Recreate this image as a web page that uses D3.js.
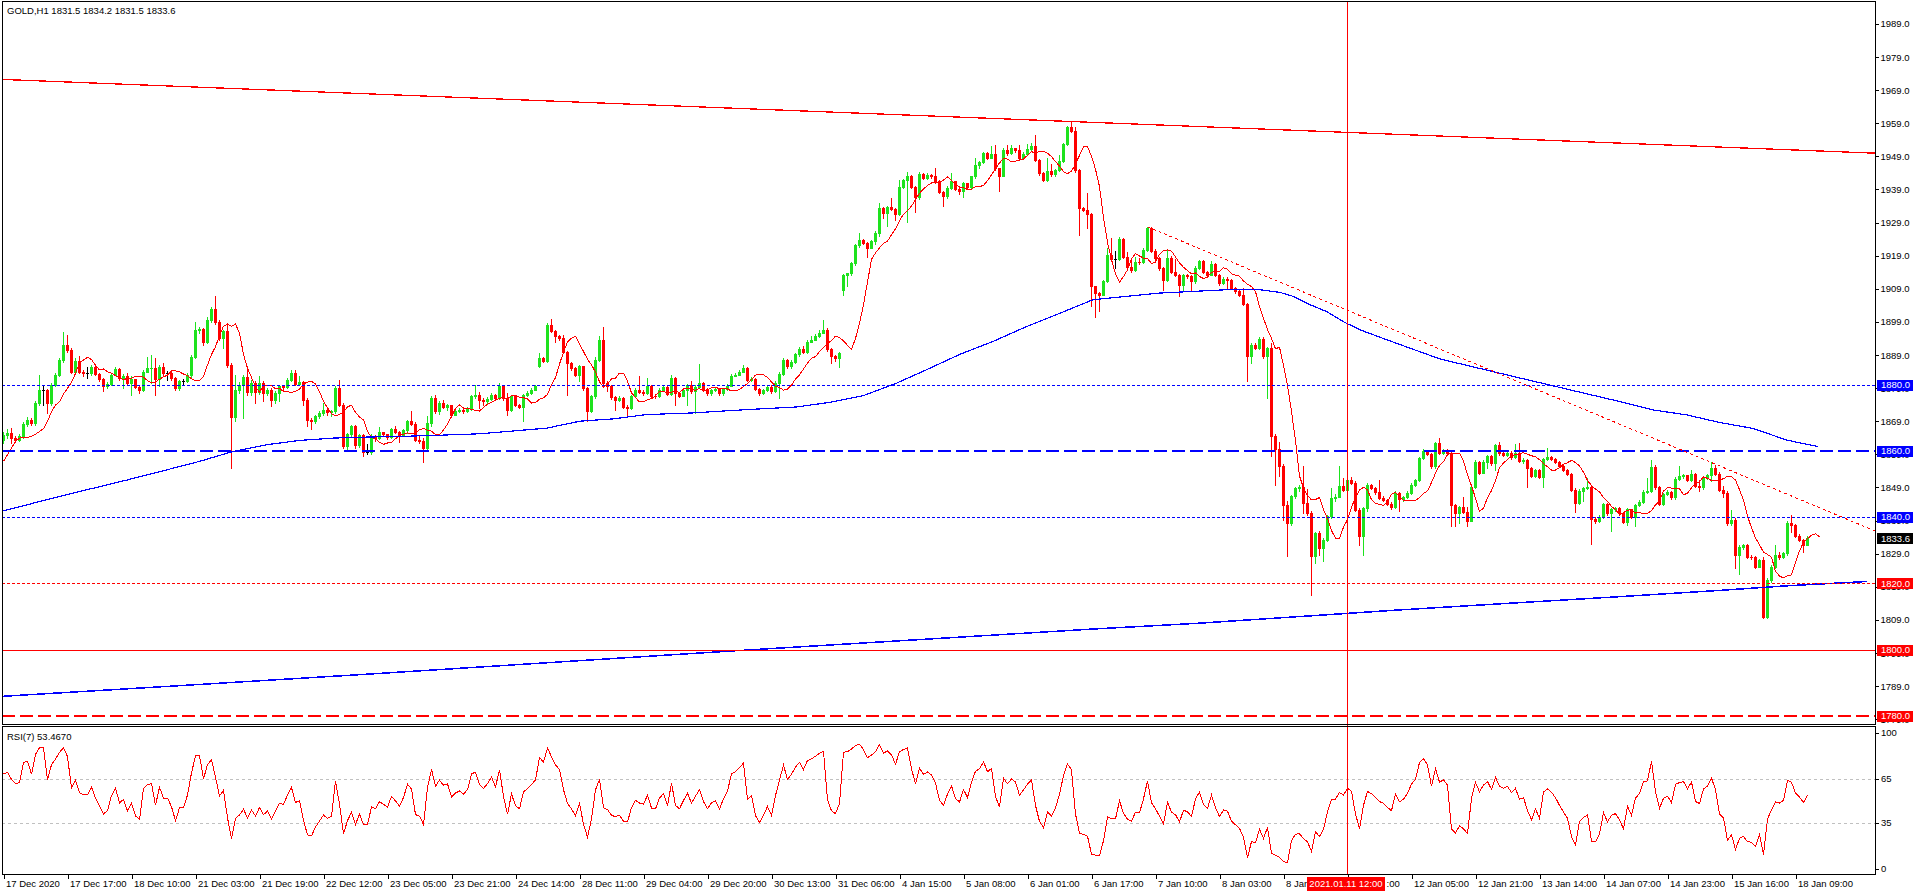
<!DOCTYPE html>
<html><head><meta charset="utf-8">
<script src="https://cdn.jsdelivr.net/npm/d3@7"></script>
<style>
body{margin:0;background:#fff;overflow:hidden}
svg text{font-family:"Liberation Sans",Arial,sans-serif;font-size:9.5px}
</style></head>
<body><svg id="c" width="1916" height="896"></svg>
<script>
// ---------- DATA (GOLD, H1) ----------
const opens=[
1863.4,1864.9,1865.4,1864.0,1863.4,1864.4,1868.2,1869.4,1868.4,1874.5,
1878.5,1878.5,1874.5,1880.0,1883.0,1887.5,1892.1,1890.6,1884.0,1887.3,
1884.0,1883.5,1883.5,1885.5,1883.3,1881.7,1879.7,1880.3,1883.0,1884.7,
1882.0,1882.7,1880.5,1881.7,1879.3,1878.5,1884.0,1885.0,1885.2,1881.7,
1885.5,1883.5,1883.5,1882.0,1879.0,1881.0,1881.0,1883.0,1888.3,1896.6,
1896.8,1892.8,1899.6,1902.8,1899.1,1894.1,1896.1,1886.0,1870.4,1878.5,
1880.0,1882.3,1877.7,1880.5,1877.7,1880.5,1877.5,1878.5,1875.5,1877.5,
1879.5,1879.2,1881.5,1883.5,1880.3,1880.7,1875.5,1869.5,1869.0,1870.5,
1871.5,1872.5,1871.7,1872.0,1879.0,1874.0,1861.4,1865.0,1867.5,1861.7,
1864.7,1859.6,1859.6,1864.4,1863.8,1865.7,1865.0,1864.3,1866.6,1865.7,
1864.7,1866.2,1869.0,1868.3,1863.4,1863.0,1861.0,1868.5,1876.0,1872.0,
1874.5,1873.3,1873.8,1871.0,1872.0,1872.5,1872.0,1872.8,1876.5,1877.0,
1875.5,1875.0,1875.8,1877.0,1876.0,1879.5,1876.0,1872.5,1876.5,1874.0,
1873.3,1876.8,1877.5,1878.5,1885.6,1888.0,1887.3,1898.0,1896.3,1894.8,
1894.0,1890.0,1886.5,1885.0,1883.0,1885.6,1879.0,1872.0,1876.5,1887.6,
1893.6,1880.5,1879.5,1876.3,1875.5,1876.0,1873.3,1873.0,1876.5,1878.5,
1877.8,1877.5,1879.5,1876.7,1876.5,1878.5,1879.3,1877.3,1882.0,1877.5,
1876.7,1878.3,1879.8,1878.0,1879.3,1880.5,1878.7,1877.5,1878.3,1878.6,
1877.5,1878.7,1879.7,1882.7,1883.1,1884.0,1885.0,1881.3,1881.8,1878.8,
1877.5,1878.3,1879.3,1878.0,1880.5,1883.3,1887.5,1885.6,1887.0,1889.2,
1890.8,1890.0,1893.0,1893.6,1894.6,1895.7,1896.6,1890.8,1888.6,1888.0,
1908.7,1913.0,1913.7,1916.7,1922.2,1923.8,1922.8,1921.3,1923.3,1925.8,
1933.3,1931.8,1933.6,1933.0,1931.6,1939.7,1941.7,1943.1,1939.7,1936.6,
1943.7,1942.4,1943.4,1942.9,1941.5,1938.1,1937.0,1939.4,1941.4,1939.1,
1938.4,1940.9,1939.6,1942.9,1946.4,1947.2,1949.9,1948.6,1949.6,1945.4,
1943.2,1951.0,1949.9,1951.4,1950.9,1948.6,1949.8,1951.1,1952.1,1947.9,
1943.9,1941.9,1944.6,1943.6,1944.9,1947.6,1952.6,1957.7,1956.7,1944.9,
1933.3,1932.8,1931.5,1909.7,1907.7,1907.2,1911.2,1919.2,1918.0,1918.0,
1924.1,1918.7,1915.7,1914.7,1917.2,1917.0,1920.7,1927.3,1920.5,1918.2,
1915.2,1911.7,1918.2,1914.2,1913.2,1910.2,1913.2,1912.7,1911.2,1915.4,
1917.4,1914.2,1913.2,1916.4,1913.2,1910.7,1912.0,1911.7,1909.2,1908.2,
1907.2,1904.4,1888.6,1892.1,1891.1,1893.9,1888.6,1891.1,1864.4,1860.5,
1855.4,1843.8,1838.3,1846.3,1848.8,1849.0,1844.3,1841.3,1828.2,1835.2,
1830.7,1833.2,1840.3,1845.8,1846.2,1849.3,1848.3,1851.3,1850.3,1842.3,
1834.2,1842.8,1849.8,1848.8,1847.5,1845.9,1845.3,1844.0,1843.0,1847.4,
1845.4,1846.0,1847.4,1849.8,1851.2,1857.9,1860.1,1859.1,1855.4,1862.4,
1859.5,1860.3,1859.3,1843.7,1841.2,1843.0,1841.6,1839.0,1849.2,1856.8,
1853.5,1856.8,1858.5,1856.3,1861.8,1859.3,1858.8,1859.5,1858.1,1859.3,
1857.1,1857.4,1854.8,1852.5,1854.3,1852.1,1857.5,1858.3,1857.7,1856.8,
1855.5,1854.3,1853.1,1848.2,1844.4,1848.0,1848.7,1849.1,1839.4,1839.0,
1840.2,1844.0,1841.2,1842.4,1842.7,1841.2,1838.7,1842.4,1840.2,1843.7,
1844.7,1847.7,1848.0,1855.3,1849.0,1844.0,1847.0,1847.7,1846.0,1851.6,
1852.3,1852.6,1851.3,1853.1,1849.4,1849.0,1852.1,1852.8,1854.8,1853.1,
1848.2,1847.2,1838.2,1839.2,1828.6,1831.1,1831.5,1828.1,1827.9,1825.1,
1827.1,1810.0,1821.1,1825.1,1828.6,1828.0,1829.1,1838.4,1837.7,1834.4,1833.1,1831.5];
const highs=[
1865.8,1866.5,1867.0,1864.6,1865.0,1868.8,1870.4,1869.9,1875.0,1883.0,
1879.5,1878.8,1880.5,1883.5,1888.0,1896.0,1895.0,1891.0,1888.0,1888.8,
1884.5,1885.5,1886.0,1886.0,1883.5,1882.0,1880.8,1883.5,1885.5,1885.0,
1883.2,1883.5,1882.5,1881.8,1879.8,1884.5,1888.5,1889.0,1888.0,1886.0,
1886.7,1884.3,1884.5,1882.2,1881.5,1881.8,1883.5,1889.0,1899.0,1897.5,
1897.0,1900.5,1903.5,1906.7,1899.5,1896.6,1898.6,1886.5,1883.0,1880.8,
1883.0,1885.0,1881.5,1881.0,1882.5,1881.0,1879.0,1879.0,1878.0,1880.0,
1880.0,1882.0,1884.5,1884.5,1882.7,1881.0,1876.0,1870.0,1871.0,1872.0,
1874.5,1873.0,1872.5,1879.5,1881.5,1874.5,1865.5,1868.0,1868.0,1865.2,
1865.0,1862.0,1865.0,1864.7,1867.2,1865.8,1865.2,1867.0,1867.6,1866.0,
1866.7,1869.5,1872.0,1868.8,1864.7,1864.0,1870.5,1876.5,1877.0,1875.2,
1875.3,1874.3,1874.0,1872.6,1873.0,1873.2,1873.3,1877.0,1880.0,1877.8,
1876.0,1876.3,1877.5,1877.3,1880.5,1879.8,1877.5,1877.0,1876.8,1874.3,
1877.2,1878.0,1879.0,1880.0,1889.6,1888.5,1898.8,1900.0,1896.6,1895.0,
1895.0,1890.2,1886.8,1885.3,1886.0,1885.8,1879.2,1877.0,1888.3,1894.8,
1897.3,1881.0,1879.8,1876.5,1876.5,1876.2,1873.8,1877.0,1879.0,1882.5,
1878.5,1882.0,1879.8,1877.2,1879.0,1879.8,1879.8,1883.0,1882.3,1877.6,
1878.8,1880.3,1881.0,1879.8,1886.3,1880.8,1879.0,1878.8,1879.0,1879.0,
1879.0,1880.2,1883.2,1883.6,1884.6,1886.0,1885.5,1882.3,1882.0,1879.0,
1878.8,1879.8,1879.8,1881.0,1883.8,1888.0,1887.8,1887.5,1889.7,1891.3,
1891.8,1893.6,1894.8,1895.4,1896.4,1899.6,1897.0,1891.0,1889.0,1890.0,
1913.5,1913.9,1917.2,1922.6,1925.8,1924.0,1923.0,1923.8,1926.3,1934.8,
1933.6,1934.0,1936.4,1933.4,1941.9,1942.2,1944.4,1943.4,1939.9,1944.2,
1944.0,1944.1,1943.6,1945.4,1941.8,1938.4,1939.9,1943.9,1941.6,1939.6,
1941.2,1941.0,1943.2,1948.4,1947.7,1950.4,1950.4,1952.0,1952.4,1945.6,
1951.5,1952.4,1952.4,1951.6,1952.4,1950.2,1952.6,1953.0,1955.3,1948.1,
1944.3,1948.4,1946.6,1945.2,1949.4,1953.0,1958.0,1959.5,1957.7,1945.2,
1933.6,1937.9,1931.8,1909.9,1908.0,1911.6,1921.3,1924.3,1920.5,1924.6,
1924.4,1920.2,1917.8,1918.5,1918.2,1921.2,1927.7,1927.5,1921.0,1918.6,
1915.6,1920.7,1918.8,1918.0,1913.6,1913.6,1913.5,1913.0,1915.8,1917.8,
1917.6,1914.5,1917.5,1916.8,1913.6,1912.4,1912.5,1911.8,1909.5,1908.5,
1909.2,1904.8,1892.5,1892.5,1894.3,1894.4,1891.5,1892.5,1865.0,1862.7,
1856.0,1844.8,1846.6,1849.2,1849.6,1855.4,1848.6,1841.8,1835.6,1835.8,
1833.6,1840.8,1848.8,1847.0,1855.4,1851.8,1851.7,1852.0,1850.8,1842.8,
1843.2,1850.2,1850.0,1849.0,1851.3,1846.3,1845.6,1844.5,1847.8,1847.6,
1846.4,1847.8,1850.2,1851.6,1858.3,1860.5,1860.3,1859.4,1862.8,1864.0,
1860.7,1860.6,1860.0,1843.9,1843.3,1846.2,1843.0,1849.6,1857.2,1857.0,
1857.2,1858.9,1858.7,1862.2,1862.8,1859.6,1860.0,1860.0,1862.2,1862.5,
1857.9,1857.7,1855.2,1854.7,1854.7,1857.9,1860.8,1858.6,1858.0,1857.0,
1855.8,1854.5,1853.3,1848.7,1848.4,1849.1,1851.8,1849.5,1840.0,1840.6,
1844.4,1844.3,1842.8,1843.1,1843.0,1841.5,1842.8,1842.6,1844.1,1845.1,
1848.2,1851.8,1857.3,1855.7,1849.4,1847.4,1848.1,1848.0,1852.0,1855.5,
1853.0,1852.8,1854.3,1853.5,1851.3,1852.5,1853.2,1856.6,1855.7,1853.6,
1849.3,1847.8,1842.2,1839.8,1831.5,1832.0,1831.9,1828.6,1828.3,1827.5,
1828.1,1821.5,1825.5,1831.6,1829.4,1829.5,1838.8,1840.7,1838.0,1834.8,1833.5,1834.2];
const lows=[
1862.4,1864.0,1862.4,1862.6,1863.0,1864.0,1867.5,1867.8,1868.0,1874.0,
1874.0,1871.5,1874.0,1879.5,1882.5,1887.0,1890.0,1883.5,1883.5,1883.5,
1882.5,1882.0,1883.0,1882.8,1881.2,1878.0,1879.0,1880.0,1882.8,1881.5,
1879.0,1880.0,1877.0,1879.0,1877.5,1878.2,1883.8,1880.5,1877.0,1879.5,
1883.0,1881.5,1881.5,1878.3,1878.3,1880.0,1880.8,1882.2,1888.0,1895.5,
1892.0,1892.5,1899.0,1898.5,1893.5,1891.0,1885.5,1854.8,1869.0,1877.5,
1870.0,1877.0,1877.0,1874.5,1877.2,1875.0,1876.8,1873.7,1874.5,1875.0,
1878.5,1879.0,1881.0,1880.0,1880.0,1874.0,1867.5,1866.5,1868.5,1870.0,
1871.0,1871.0,1870.5,1871.5,1873.5,1861.0,1860.4,1864.5,1861.0,1861.3,
1858.4,1859.0,1859.2,1863.0,1863.5,1864.5,1863.5,1864.0,1865.3,1862.6,
1864.5,1865.5,1868.0,1863.0,1862.4,1856.6,1860.5,1867.5,1871.5,1871.3,
1873.0,1872.5,1870.5,1870.8,1871.7,1871.5,1871.7,1872.5,1876.0,1873.0,
1874.0,1874.5,1875.5,1875.5,1875.8,1875.5,1871.0,1872.0,1873.5,1873.0,
1869.0,1876.5,1877.2,1878.5,1885.5,1887.0,1887.0,1895.8,1893.0,1893.5,
1889.5,1877.0,1884.5,1882.5,1881.0,1878.5,1869.0,1871.8,1876.0,1887.3,
1880.0,1878.0,1875.8,1872.5,1875.0,1873.0,1870.5,1872.8,1876.3,1877.5,
1877.0,1877.3,1876.3,1876.0,1876.3,1878.3,1877.0,1877.0,1874.0,1876.3,
1876.5,1874.0,1877.6,1871.5,1879.0,1878.3,1877.0,1877.0,1878.0,1877.0,
1876.8,1878.5,1879.5,1882.5,1883.0,1883.8,1881.0,1881.0,1878.5,1877.0,
1877.2,1878.0,1877.6,1877.7,1876.0,1883.0,1885.2,1885.0,1886.7,1888.8,
1889.7,1889.6,1892.8,1893.4,1894.4,1895.5,1890.3,1886.6,1887.3,1885.4,
1907.2,1909.7,1913.2,1916.2,1921.6,1922.4,1918.7,1921.2,1922.5,1924.8,
1930.3,1927.8,1932.7,1929.8,1931.2,1939.5,1929.3,1939.3,1932.3,1936.2,
1942.0,1942.0,1942.5,1941.0,1937.8,1934.0,1936.4,1939.0,1938.7,1937.5,
1936.6,1939.2,1939.3,1942.4,1945.6,1947.0,1948.2,1948.4,1944.9,1938.6,
1942.9,1949.5,1949.6,1950.4,1948.2,1948.3,1949.7,1950.8,1947.5,1943.4,
1941.4,1941.4,1943.2,1943.2,1944.6,1947.4,1952.4,1956.3,1944.4,1925.3,
1932.4,1927.3,1903.7,1900.6,1902.2,1907.0,1911.0,1917.6,1915.2,1917.6,
1918.3,1915.3,1914.2,1914.5,1916.5,1916.8,1920.4,1920.0,1917.8,1914.8,
1908.7,1911.2,1913.8,1912.8,1906.7,1908.7,1912.3,1908.7,1910.8,1915.0,
1913.8,1912.8,1913.0,1912.8,1910.2,1910.3,1909.2,1908.8,1907.8,1906.8,
1904.0,1881.0,1886.6,1890.7,1890.7,1888.2,1876.0,1858.4,1849.8,1852.4,
1839.2,1828.2,1837.7,1845.8,1847.8,1841.3,1840.8,1816.6,1826.2,1828.5,
1826.7,1832.8,1839.8,1844.8,1846.0,1847.9,1848.0,1849.9,1841.8,1831.7,
1828.7,1841.8,1848.4,1847.0,1845.5,1844.8,1843.6,1842.6,1842.8,1841.8,
1844.8,1845.7,1847.0,1849.5,1850.8,1857.5,1858.7,1855.0,1855.0,1859.0,
1859.0,1858.8,1837.2,1837.2,1838.2,1841.2,1837.2,1838.8,1848.8,1853.0,
1853.3,1854.8,1855.9,1854.3,1858.9,1858.4,1858.5,1857.7,1857.8,1856.7,
1856.4,1849.0,1852.0,1852.0,1851.7,1849.0,1857.2,1857.3,1856.3,1855.1,
1853.9,1852.7,1847.8,1841.7,1844.0,1844.8,1848.5,1831.9,1838.4,1838.6,
1839.8,1840.8,1835.7,1841.9,1840.8,1838.3,1837.5,1839.8,1837.2,1843.3,
1844.4,1847.4,1847.6,1848.6,1843.6,1843.6,1846.6,1845.6,1845.6,1851.3,
1851.8,1850.9,1850.9,1849.0,1848.0,1848.6,1851.5,1850.8,1852.7,1847.8,
1846.0,1837.7,1837.8,1824.6,1822.9,1830.4,1827.7,1827.3,1824.7,1824.9,
1809.6,1809.6,1820.5,1824.6,1827.4,1827.6,1828.5,1835.5,1834.0,1832.7,1829.6,1831.5];
const closes=[
1864.9,1865.4,1864.0,1863.4,1864.4,1868.2,1869.4,1868.4,1874.5,1878.5,
1878.5,1874.5,1880.0,1883.0,1887.5,1892.1,1890.6,1884.0,1887.3,1884.0,
1883.5,1883.5,1885.5,1883.3,1881.7,1879.7,1880.3,1883.0,1884.7,1882.0,
1882.7,1880.5,1881.7,1879.3,1878.5,1884.0,1885.0,1885.2,1881.7,1885.5,
1883.5,1883.5,1882.0,1879.0,1881.0,1881.0,1883.0,1888.3,1896.6,1896.8,
1892.8,1899.6,1902.8,1899.1,1894.1,1896.1,1886.0,1870.4,1878.5,1880.0,
1882.3,1877.7,1880.5,1877.7,1880.5,1877.5,1878.5,1875.5,1877.5,1879.5,
1879.2,1881.5,1883.5,1880.3,1880.7,1875.5,1869.5,1869.0,1870.5,1871.5,
1872.5,1871.7,1872.0,1879.0,1874.0,1861.4,1865.0,1867.5,1861.7,1864.7,
1859.6,1859.6,1864.4,1863.8,1865.7,1865.0,1864.3,1866.6,1865.7,1864.7,
1866.2,1869.0,1868.3,1863.4,1863.0,1861.0,1868.5,1876.0,1872.0,1874.5,
1873.3,1873.8,1871.0,1872.0,1872.5,1872.0,1872.8,1876.5,1877.0,1875.5,
1875.0,1875.8,1877.0,1876.0,1879.5,1876.0,1872.5,1876.5,1874.0,1873.3,
1876.8,1877.5,1878.5,1879.5,1888.0,1887.3,1898.0,1896.3,1894.8,1894.0,
1890.0,1886.5,1885.0,1883.0,1885.6,1879.0,1872.0,1876.5,1887.6,1893.6,
1880.5,1879.5,1876.3,1875.5,1876.0,1873.3,1873.0,1876.5,1878.5,1877.8,
1877.5,1879.5,1876.7,1876.5,1878.5,1879.3,1877.3,1882.0,1877.5,1876.7,
1878.3,1879.8,1878.0,1879.3,1880.5,1878.7,1877.5,1878.3,1878.6,1877.5,
1878.7,1879.7,1882.7,1883.1,1884.0,1885.0,1881.3,1881.8,1878.8,1877.5,
1878.3,1879.3,1878.0,1880.5,1883.3,1887.5,1885.6,1887.0,1889.2,1890.8,
1890.0,1893.0,1893.6,1894.6,1895.7,1896.6,1890.8,1888.6,1888.0,1889.5,
1913.0,1913.7,1916.7,1922.2,1923.8,1922.8,1921.3,1923.3,1925.8,1933.3,
1931.8,1933.6,1933.0,1931.6,1939.7,1941.7,1943.1,1939.7,1936.6,1943.7,
1942.4,1943.4,1942.9,1941.5,1938.1,1937.0,1939.4,1941.4,1939.1,1938.4,
1940.9,1939.6,1942.9,1946.4,1947.2,1949.9,1948.6,1949.6,1945.4,1943.2,
1951.0,1949.9,1951.4,1950.9,1948.6,1949.8,1951.1,1952.1,1947.9,1943.9,
1941.9,1944.6,1943.6,1944.9,1947.6,1952.6,1957.7,1956.7,1944.9,1933.3,
1932.8,1931.5,1909.7,1907.7,1907.2,1911.2,1919.2,1918.0,1918.0,1924.1,
1918.7,1915.7,1914.7,1917.2,1917.0,1920.7,1927.3,1920.5,1918.2,1915.2,
1911.7,1918.2,1914.2,1913.2,1910.2,1913.2,1912.7,1911.2,1915.4,1917.4,
1914.2,1913.2,1916.4,1913.2,1910.7,1912.0,1911.7,1909.2,1908.2,1907.2,
1904.4,1888.6,1892.1,1891.1,1893.9,1888.6,1891.1,1864.4,1860.5,1855.4,
1843.8,1838.3,1846.3,1848.8,1849.0,1844.3,1841.3,1828.2,1835.2,1830.7,
1833.2,1840.3,1845.8,1846.2,1849.3,1848.3,1851.3,1850.3,1842.3,1834.2,
1842.8,1849.8,1848.8,1847.5,1845.9,1845.3,1844.0,1843.0,1847.4,1845.4,
1846.0,1847.4,1849.8,1851.2,1857.9,1860.1,1859.1,1855.4,1862.4,1859.5,
1860.3,1859.3,1843.7,1841.2,1843.0,1841.6,1839.0,1849.2,1856.8,1853.5,
1856.8,1858.5,1856.3,1861.8,1859.3,1858.8,1859.5,1858.1,1859.3,1857.1,
1857.4,1854.8,1852.5,1854.3,1852.1,1857.5,1858.3,1857.7,1856.8,1855.5,
1854.3,1853.1,1848.2,1844.4,1848.0,1848.7,1849.1,1839.4,1839.0,1840.2,
1844.0,1841.2,1842.4,1842.7,1841.2,1838.7,1842.4,1840.2,1843.7,1844.7,
1847.7,1848.0,1855.3,1849.0,1844.0,1847.0,1847.7,1846.0,1851.6,1852.3,
1852.6,1851.3,1853.1,1849.4,1849.0,1852.1,1852.8,1854.8,1853.1,1848.2,
1847.2,1838.2,1839.2,1828.6,1831.1,1831.5,1828.1,1827.9,1825.1,1827.1,
1810.0,1821.1,1825.1,1828.6,1828.0,1829.1,1838.4,1837.7,1834.4,1833.1,1831.5,1833.6];

// time axis labels, one every 16 bars
const timeIdx=[0,16,32,48,64,80,96,112,128,144,160,176,192,208,224,240,256,272,288,304,320,336,352,368,384,400,416,432,448];
const timeLabels=["17 Dec 2020","17 Dec 17:00","18 Dec 10:00","21 Dec 03:00","21 Dec 19:00","22 Dec 12:00","23 Dec 05:00","23 Dec 21:00","24 Dec 14:00","28 Dec 11:00","29 Dec 04:00","29 Dec 20:00","30 Dec 13:00","31 Dec 06:00","4 Jan 15:00","5 Jan 08:00","6 Jan 01:00","6 Jan 17:00","7 Jan 10:00","8 Jan 03:00","8 Jan 19:00","11 Jan 12:00","12 Jan 05:00","12 Jan 21:00","13 Jan 14:00","14 Jan 07:00","14 Jan 23:00","15 Jan 16:00","18 Jan 09:00"];
const priceTicks=[1779,1789,1799,1809,1819,1829,1839,1849,1859,1869,1879,1889,1899,1909,1919,1929,1939,1949,1959,1969,1979,1989];
const rsiTicks=[100,65,35,0];
const rsiLevels=[65,35];

// horizontal price levels
const levelPrices=[1880,1860,1840,1820,1800,1780];
const lastPrice=1833.6;
// trend lines (anchor bar index, price)
const trendSolidIdx=[0,267], trendSolidPrice=[1972.2,1959.5];
const trendDotIdx=[286,427], trendDotPrice=[1927.7,1856.5];
// vertical line
const vLineIdx=336, vLineLabel="2021.01.11 12:00";
// long moving averages (bar index, price)
const maSlowIdx=[-0.4,14.4,31.1,40.8,49.1,57.5,65.8,74.1,82.5,90.8,99.1,107.5,119.1,135.8,144.1,152.4,160.8,172.4,185.8,198.3,206.6,214.9,223.3,231.6,239.1,247.4,255.8,264.1,272.4,280.8,289.1,297.4,305.8,314.1,319.1,322.4,326.6,330.8,334.9,339.1,347.4,359.1,381,402.4,412.4,420.8,429.1,437.4,445.8,453.7];
const maSlowVal=[1841.8,1846.4,1851.3,1854.3,1856.9,1859.9,1861.9,1863.2,1863.9,1864.2,1864.4,1864.7,1865.2,1866.9,1869.0,1869.7,1871.0,1871.5,1872.5,1873.3,1874.7,1876.7,1880.5,1885.0,1889.2,1893.1,1897.6,1901.6,1905.7,1906.7,1907.7,1908.2,1908.7,1908.7,1907.9,1906.7,1904.2,1902.1,1899.1,1896.6,1892.9,1887.8,1881.5,1875.4,1872.4,1870.9,1868.6,1866.8,1863.3,1861.3];
const maLongIdx=[-0.4,45,91,182,272,299,324,349,379,404,429,446,466];
const maLongVal=[1785.9,1789.2,1792.6,1799.6,1806.2,1808.0,1810.0,1812.0,1814.2,1816.0,1817.9,1819.3,1820.6];
// fast MA: SMA(5) shifted 3 bars; first values
const maPeriod=5, maShift=3;
const maLead=[1856.9,1858.9,1860.9,1862.9,1863.9,1864.1,1864.1];
// RSI(7); first values
const rsiPeriod=7;
const rsiLead=[68.5,69.6,64.8,62.1,62.5,76.3,77.2];
const headerText="GOLD,H1  1831.5 1834.2 1831.5 1833.6";
const rsiText="RSI(7) 53.4670";

// ---------- LAYOUT / STYLE ----------
const L=2, R=1876, mTop=1, mBot=724.5, rTop=726.5, rBot=874.5;
const bull="#1ee21e", bear="#ff0000", blue="#0000ff", red="#ff0000";
const levelColor=[blue,blue,blue,red,red,red];
const levelDash=["3,2","13,5","3,2","3,2",null,"13,5"];
const levelWidth=[1,2,1,1,1,2];

const svg=d3.select("#c");
const x=d3.scaleLinear().domain([-0.375,468.125]).range([L,R]);
const y=d3.scaleLinear().domain([1777.4,1995.9]).range([mBot,mTop]);
const yr=d3.scaleLinear().domain([0,100]).range([874,728]);

const defs=svg.append("defs");
defs.append("clipPath").attr("id","cm").append("rect").attr("x",L+1).attr("y",mTop+1).attr("width",R-L-1).attr("height",mBot-mTop-1.5);
defs.append("clipPath").attr("id","cr").append("rect").attr("x",L+1).attr("y",rTop+0.5).attr("width",R-L-1).attr("height",rBot-rTop-1);

const gm=svg.append("g").attr("clip-path","url(#cm)").attr("shape-rendering","crispEdges");
const gr=svg.append("g").attr("clip-path","url(#cr)").attr("shape-rendering","crispEdges");

// candles
const idx=d3.range(closes.length);
const cg=gm.append("g");
idx.forEach(i=>{
  const o=opens[i],c=closes[i],h=highs[i],l=lows[i];
  const col=c>o?bull:(c<o?bear:"#000");
  const xi=Math.floor(x(i));
  const yh=Math.round(y(h)), yl=Math.round(y(l));
  cg.append("rect").attr("x",xi).attr("y",yh).attr("width",1).attr("height",Math.max(1,yl-yh+1)).attr("fill",col);
  const yt=Math.round(y(Math.max(o,c))), yb=Math.round(y(Math.min(o,c)));
  cg.append("rect").attr("x",xi-1).attr("y",yt).attr("width",3).attr("height",Math.max(1,yb-yt+1)).attr("fill",col);
});

// fast MA
const maFast=[];
for(let j=0;j<closes.length+maShift;j++){
  const end=j-maShift;
  if(end-maPeriod+1>=0){maFast.push([j,d3.mean(closes.slice(end-maPeriod+1,end+1))]);}
  else if(j<maLead.length){maFast.push([j,maLead[j]]);}
}
const line=d3.line().x(d=>x(d[0])).y(d=>y(d[1]));
gm.append("path").attr("d",line(maFast)).attr("fill","none").attr("stroke",red).attr("stroke-width",1);
gm.append("path").attr("d",line(maSlowIdx.map((d,i)=>[d,maSlowVal[i]]))).attr("fill","none").attr("stroke",blue).attr("stroke-width",1.2);
gm.append("path").attr("d",line(maLongIdx.map((d,i)=>[d,maLongVal[i]]))).attr("fill","none").attr("stroke",blue).attr("stroke-width",1.5);

// horizontal levels
levelPrices.forEach((p,k)=>{
  const yy=Math.round(y(p))+(levelWidth[k]===2?0:0.5);
  gm.append("line").attr("x1",L).attr("x2",R).attr("y1",yy).attr("y2",yy)
    .attr("stroke",levelColor[k]).attr("stroke-width",levelWidth[k]).attr("stroke-dasharray",levelDash[k]);
});
// trend lines (rays)
function ray(ix,pr,fromStart){
  const s=(pr[1]-pr[0])/(ix[1]-ix[0]);
  const x0=fromStart?x.domain()[0]:ix[0], x1=x.domain()[1];
  return [[x0,pr[0]+s*(x0-ix[0])],[x1,pr[0]+s*(x1-ix[0])]];
}
gm.append("path").attr("d",line(ray(trendSolidIdx,trendSolidPrice,true))).attr("fill","none").attr("stroke",red).attr("stroke-width",1.3);
gm.append("path").attr("d",line(ray(trendDotIdx,trendDotPrice,false))).attr("fill","none").attr("stroke",red).attr("stroke-width",1).attr("stroke-dasharray","3,3");

// RSI
const rsi=rsiLead.map((v,i)=>[i,v]);
let ag=0,al=0;
for(let i=1;i<=rsiPeriod;i++){const d=closes[i]-closes[i-1];ag+=Math.max(d,0);al+=Math.max(-d,0);}
ag/=rsiPeriod;al/=rsiPeriod;
rsi.push([rsiPeriod,al===0?100:100-100/(1+ag/al)]);
for(let i=rsiPeriod+1;i<closes.length;i++){
  const d=closes[i]-closes[i-1];
  ag=(ag*(rsiPeriod-1)+Math.max(d,0))/rsiPeriod;
  al=(al*(rsiPeriod-1)+Math.max(-d,0))/rsiPeriod;
  rsi.push([i,al===0?100:100-100/(1+ag/al)]);
}
rsiLevels.forEach(v=>{
  const yy=Math.round(yr(v))+0.5;
  gr.append("line").attr("x1",L).attr("x2",R).attr("y1",yy).attr("y2",yy).attr("stroke","#c0c0c0").attr("stroke-dasharray","3,3");
});
gr.append("path").attr("d",d3.line().x(d=>x(d[0])).y(d=>yr(d[1]))(rsi)).attr("fill","none").attr("stroke",red).attr("stroke-width",1);

// vertical line
const vx=Math.floor(x(vLineIdx))+0.5;
svg.append("line").attr("x1",vx).attr("x2",vx).attr("y1",mTop).attr("y2",rBot).attr("stroke",red).attr("stroke-width",1).attr("shape-rendering","crispEdges");

// frames
const fr=svg.append("g").attr("stroke","#000").attr("fill","none").attr("shape-rendering","crispEdges");
fr.append("rect").attr("x",L+0.5).attr("y",mTop+0.5).attr("width",R-L-1).attr("height",mBot-mTop-0.5);
fr.append("rect").attr("x",L+0.5).attr("y",rTop).attr("width",R-L-1).attr("height",rBot-rTop);

// price axis
const pa=svg.append("g").attr("transform",`translate(${R-0.5},0)`)
  .call(d3.axisRight(y).tickValues(priceTicks).tickSize(3).tickPadding(2).tickFormat(d3.format(".1f")));
pa.select(".domain").remove();
pa.attr("font-family",null).attr("font-size",null);
pa.selectAll("line").attr("shape-rendering","crispEdges");
pa.selectAll("text").attr("fill","#000");

// price labels boxes
const boxData=levelPrices.map((p,k)=>({p,c:levelColor[k]})).concat([{p:lastPrice,c:"#000"}]);
boxData.forEach(b=>{
  const yy=y(b.p);
  svg.append("rect").attr("x",R+1).attr("y",Math.round(yy)-5.5).attr("width",36).attr("height",11).attr("fill",b.c).attr("shape-rendering","crispEdges");
  svg.append("text").attr("x",R+5).attr("y",yy).attr("dy","0.34em").attr("fill","#fff").text(d3.format(".1f")(b.p));
});

// RSI axis labels (clamped inside panel like MT4)
rsiTicks.forEach(v=>{
  const yy=Math.max(733,Math.min(868.7,yr(v)));
  svg.append("line").attr("x1",R).attr("x2",R+3).attr("y1",Math.round(yy)+0.5).attr("y2",Math.round(yy)+0.5).attr("stroke","#000").attr("shape-rendering","crispEdges");
  svg.append("text").attr("x",R+5).attr("y",yy).attr("dy","0.34em").text(v);
});

// time axis
const vx0=Math.floor(x(vLineIdx))+0.5;
const boxL=vx0-40.5, boxR=vx0+37.5;
const ta=svg.append("g").attr("transform",`translate(0,${rBot})`)
  .call(d3.axisBottom(x).tickValues(timeIdx).tickSize(4).tickPadding(2).tickFormat((d,i)=>timeLabels[i]));
ta.select(".domain").remove();
ta.attr("font-family",null).attr("font-size",null);
ta.selectAll("line").attr("shape-rendering","crispEdges");
ta.selectAll("text").attr("text-anchor","start").attr("x",2).attr("fill","#000");
// labels partly hidden by the vertical-line date box: keep only their visible parts
ta.selectAll(".tick").each(function(d,i){
  const t=d3.select(this).select("text");
  const tx=x(d)+2;
  const full=timeLabels[i];
  if(tx<boxL && tx+58>boxL){ // cut at box left edge
    const words=full.split(" ");
    t.text(words[0]+" "+words[1]);
  } else if(tx>=boxL && tx<boxR){ // only the tail after the box is visible
    t.text(full.slice(full.lastIndexOf(":"))).attr("x",boxR-x(d)+1);
  }
});

// vertical line label
svg.append("rect").attr("x",boxL).attr("y",877).attr("width",boxR-boxL).attr("height",14).attr("fill",red);
svg.append("text").attr("x",vx0-1.5).attr("y",884).attr("dy","0.34em").attr("text-anchor","middle").attr("fill","#fff").text(vLineLabel);

// titles
svg.append("text").attr("x",7).attr("y",14).text(headerText);
svg.append("text").attr("x",7).attr("y",739.5).text(rsiText);
</script></body></html>
